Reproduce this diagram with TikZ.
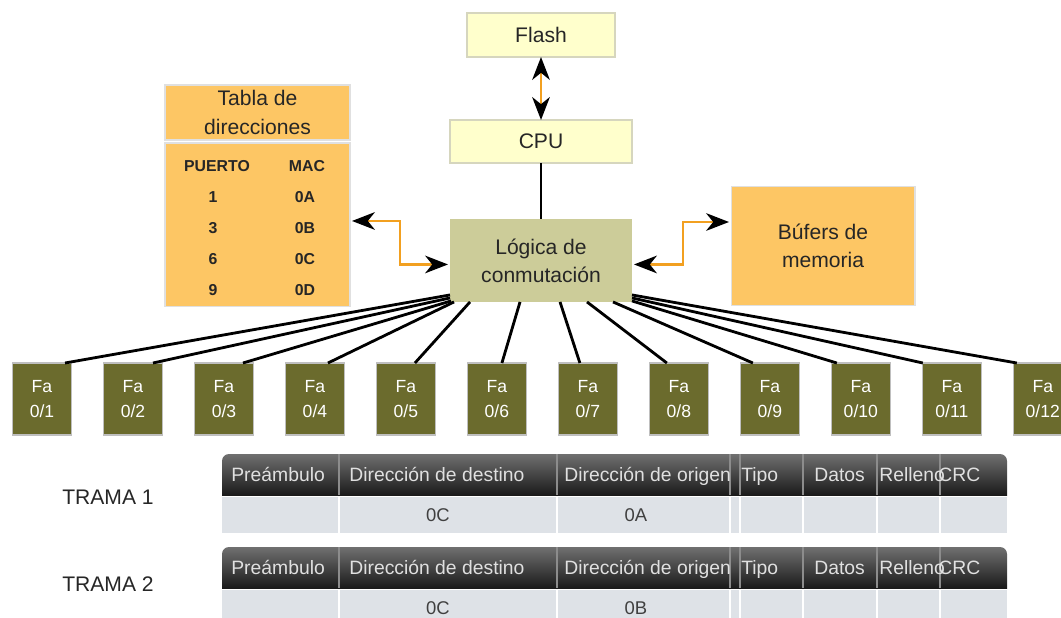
\documentclass[tikz,border=0pt]{standalone}
\usepackage{fontspec}
\setmainfont{Liberation Sans}
\usetikzlibrary{arrows.meta,positioning,calc}

\definecolor{membg}{RGB}{255,255,204}
\definecolor{memedge}{RGB}{214,214,190}
\definecolor{logicbg}{RGB}{204,204,153}
\definecolor{tablebg}{RGB}{253,198,100}
\definecolor{portbg}{RGB}{107,107,45}
\definecolor{linkline}{RGB}{242,160,32}
\definecolor{hdtop}{RGB}{112,112,112}
\definecolor{hdbot}{RGB}{26,26,26}
\definecolor{cellbg}{RGB}{222,226,231}

\begin{document}
\begin{tikzpicture}[
    x=0.02cm, y=-0.02cm,
    bigtxt/.style={font=\fontsize{12}{16}\selectfont, text=black!85, align=center},
    membox/.style={bigtxt, rectangle, draw=memedge, line width=1pt, fill=membg, inner sep=0pt, outer sep=0pt},
    logicbox/.style={bigtxt, rectangle, fill=logicbg, inner sep=0pt, outer sep=0pt, minimum width=3.64cm, minimum height=1.66cm},
    orbox/.style={bigtxt, rectangle, fill=tablebg, draw=black!12, line width=0.6pt, inner sep=0pt, outer sep=0pt},
    tabtxt/.style={font=\fontsize{9}{11}\selectfont\bfseries, text=black!85, inner sep=0pt},
    port/.style={rectangle, fill=portbg, draw=black!25, line width=0.6pt, minimum width=1.18cm, minimum height=1.44cm, inner sep=0pt, outer sep=0pt, align=center, text=white, font=\fontsize{10}{14.5}\selectfont},
    wire/.style={line width=1.6pt, black},
    link/.style={line width=1.6pt, linkline, >={Stealth[length=13pt,width=10pt,inset=4pt,color=black]}, <->},
    hdtxt/.style={anchor=base west, inner sep=0pt, font=\fontsize{11}{13}\selectfont, text=white!88!black},
    celltxt/.style={inner sep=0pt, font=\fontsize{10.5}{12}\selectfont, text=black!75},
    tramatxt/.style={font=\fontsize{12}{14}\selectfont, text=black!85},
    hdsep/.style={line width=0.8pt, black!45},
    cellsep/.style={line width=1.2pt, white}
]
\useasboundingbox (0,0) rectangle (1061,618);
\clip (0,0) rectangle (1061,618);

% flash, cpu and switching logic
\node[membox, minimum width=2.96cm, minimum height=0.88cm] (flash) at (541,35) {Flash};
\node[membox, minimum width=3.64cm, minimum height=0.86cm] (cpu) [below=1.26cm of flash] {CPU};
\node[logicbox] (logic) [below=1.12cm of cpu] {Lógica de\\conmutación};

% address table
\node[orbox, minimum width=3.7cm, minimum height=1.1cm] (tabhead) at (257.5,112.5) {Tabla de\\direcciones};
\node[orbox, minimum width=3.7cm, minimum height=3.28cm] (tabbody) [below=0.06cm of tabhead] {};
\node[tabtxt] (puerto) at (217,166) {PUERTO};
\node[tabtxt] (mac) at (307,166) {MAC};
\node[tabtxt] (n1) at (213,197) {1};
\node[tabtxt] (m1) at (305,197) {0A};
\node[tabtxt] (n3) at (213,228) {3};
\node[tabtxt] (m3) at (305,228) {0B};
\node[tabtxt] (n6) at (213,259) {6};
\node[tabtxt] (m6) at (305,259) {0C};
\node[tabtxt] (n9) at (213,290) {9};
\node[tabtxt] (m9) at (305,290) {0D};

% buffers
\node[orbox, minimum width=3.68cm, minimum height=2.38cm] (bufers) at (823,246) {Búfers de\\memoria};

\draw[link] (flash) -- (cpu);
\draw[wire] (cpu) -- (logic);
\draw[link] ($(tabbody.east)+(2,-4)$) -- ++(48,0) |- ($(logic.west)+(-2,4)$);
\draw[link] ($(logic.east)+(2,4)$) -- ++(49,0) |- ($(bufers.west)+(-2,-24)$);

% ports
\node[port] (p1) at (42,399) {Fa\\0/1};
\node[port] (p2) [right=0.64cm of p1] {Fa\\0/2};
\node[port] (p3) [right=0.64cm of p2] {Fa\\0/3};
\node[port] (p4) [right=0.64cm of p3] {Fa\\0/4};
\node[port] (p5) [right=0.64cm of p4] {Fa\\0/5};
\node[port] (p6) [right=0.64cm of p5] {Fa\\0/6};
\node[port] (p7) [right=0.64cm of p6] {Fa\\0/7};
\node[port] (p8) [right=0.64cm of p7] {Fa\\0/8};
\node[port] (p9) [right=0.64cm of p8] {Fa\\0/9};
\node[port] (p10) [right=0.64cm of p9] {Fa\\0/10};
\node[port] (p11) [right=0.64cm of p10] {Fa\\0/11};
\node[port] (p12) [right=0.64cm of p11] {Fa\\0/12};

\draw[wire] ($(logic.south west)+(0,-7)$) -- ($(p1.north)+(23,0)$);
\draw[wire] ($(logic.south west)+(0,-4)$) -- ($(p2.north)+(20,0)$);
\draw[wire] ($(logic.south west)+(1,-1)$) -- ($(p3.north)+(19,0)$);
\draw[wire] ($(logic.south west)+(4,0)$) -- ($(p4.north)+(13,0)$);
\draw[wire] ($(logic.south west)+(20,0)$) -- ($(p5.north)+(9,0)$);
\draw[wire] ($(logic.south west)+(70,0)$) -- ($(p6.north)+(5,0)$);
\draw[wire] ($(logic.south west)+(110,0)$) -- ($(p7.north)+(-8,0)$);
\draw[wire] ($(logic.south west)+(137,0)$) -- ($(p8.north)+(-12,0)$);
\draw[wire] ($(logic.south west)+(163,0)$) -- ($(p9.north)+(-17,0)$);
\draw[wire] ($(logic.south east)+(0,-1)$) -- ($(p10.north)+(-24,0)$);
\draw[wire] ($(logic.south east)+(0,-4)$) -- ($(p11.north)+(-29,0)$);
\draw[wire] ($(logic.south east)+(0,-7)$) -- ($(p12.north)+(-26,0)$);

% frames
\foreach \k/\ty/\src/\ly in {1/454/0A/497, 2/547/0B/584} {
  \begin{scope}
    \clip[rounded corners=0.14cm] (222,\ty) rectangle (1007,\ty+60);
    \shade[top color=hdtop, bottom color=hdbot] (222,\ty) rectangle (1007,\ty+41);
  \end{scope}
  \fill[cellbg] (222,\ty+43) rectangle (1007,\ty+79);
  \foreach \cx in {339,557,730,740,803,877,940} {
    \draw[hdsep] (\cx,\ty) -- (\cx,\ty+41);
    \draw[cellsep] (\cx,\ty+43) -- (\cx,\ty+79);
  }
  \node[tramatxt] (trama\k) at (108,\ly) {TRAMA \k};
  \node[hdtxt] (pre\k) at (231,\ty+27) {Preámbulo};
  \node[hdtxt] (dst\k) at (349,\ty+27) {Dirección de destino};
  \node[hdtxt] (org\k) at (564,\ty+27) {Dirección de origen};
  \node[hdtxt] (tipo\k) at (741,\ty+27) {Tipo};
  \node[hdtxt] (datos\k) at (814,\ty+27) {Datos};
  \node[hdtxt] (rell\k) at (879,\ty+27) {Relleno};
  \node[hdtxt] (crc\k) at (938,\ty+27) {CRC};
  \node[celltxt] (dv\k) at (438,\ty+61) {0C};
  \node[celltxt] (sv\k) at (636,\ty+61) {\src};
}
\end{tikzpicture}
\end{document}
